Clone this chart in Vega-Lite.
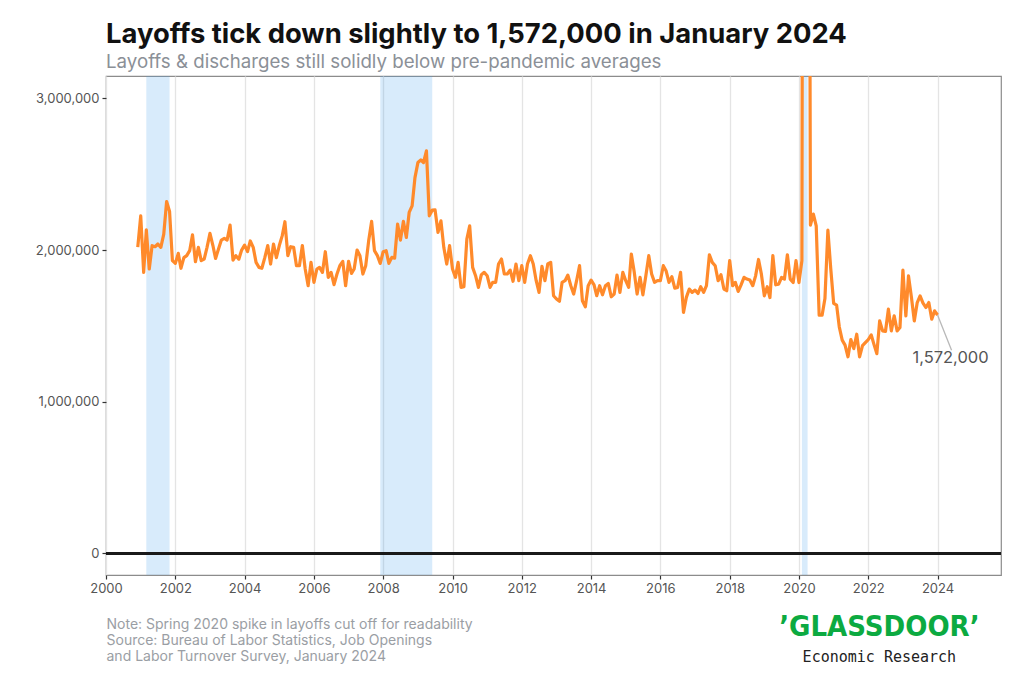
{
  "$schema": "https://vega.github.io/schema/vega-lite/v6.json",
  "autosize": {"type": "none"},
  "padding": {"left": 106, "top": 76, "right": 23, "bottom": 108},
  "width": 895,
  "height": 499,
  "background": "white",
  "config": {
    "font": "Inter",
    "view": {"stroke": "#8c8c8c", "strokeWidth": 1.2}
  },
  "title": {
    "text": "Layoffs tick down slightly to 1,572,000 in January 2024",
    "subtitle": "Layoffs & discharges still solidly below pre-pandemic averages",
    "anchor": "start",
    "frame": "group",
    "font": "Inter",
    "fontSize": 27.4,
    "fontWeight": 700,
    "color": "#111111",
    "subtitleFont": "Inter",
    "subtitleFontSize": 18.7,
    "subtitleColor": "#8b9097",
    "subtitlePadding": 5,
    "offset": 4
  },
  "data": {
    "format": {"parse": {"date": "date:'%Y-%m'"}},
    "values": [
      {"date":"2000-12","value":2020000},
      {"date":"2001-01","value":2226000},{"date":"2001-02","value":1853000},{"date":"2001-03","value":2134000},{"date":"2001-04","value":1875000},{"date":"2001-05","value":2029000},{"date":"2001-06","value":2022000},{"date":"2001-07","value":2040000},{"date":"2001-08","value":2018000},{"date":"2001-09","value":2105000},{"date":"2001-10","value":2320000},{"date":"2001-11","value":2255000},{"date":"2001-12","value":1930000},
      {"date":"2002-01","value":1912000},{"date":"2002-02","value":1978000},{"date":"2002-03","value":1880000},{"date":"2002-04","value":1950000},{"date":"2002-05","value":1963000},{"date":"2002-06","value":1996000},{"date":"2002-07","value":2100000},{"date":"2002-08","value":1923000},{"date":"2002-09","value":2018000},{"date":"2002-10","value":1930000},{"date":"2002-11","value":1940000},{"date":"2002-12","value":2018000},
      {"date":"2003-01","value":2110000},{"date":"2003-02","value":2030000},{"date":"2003-03","value":1945000},{"date":"2003-04","value":2007000},{"date":"2003-05","value":2066000},{"date":"2003-06","value":2077000},{"date":"2003-07","value":2066000},{"date":"2003-08","value":2165000},{"date":"2003-09","value":1934000},{"date":"2003-10","value":1963000},{"date":"2003-11","value":1940000},{"date":"2003-12","value":2000000},
      {"date":"2004-01","value":2033000},{"date":"2004-02","value":1990000},{"date":"2004-03","value":2060000},{"date":"2004-04","value":2018000},{"date":"2004-05","value":1919000},{"date":"2004-06","value":1886000},{"date":"2004-07","value":1880000},{"date":"2004-08","value":1950000},{"date":"2004-09","value":2030000},{"date":"2004-10","value":1908000},{"date":"2004-11","value":2040000},{"date":"2004-12","value":1950000},
      {"date":"2005-01","value":2030000},{"date":"2005-02","value":2095000},{"date":"2005-03","value":2187000},{"date":"2005-04","value":1963000},{"date":"2005-05","value":2022000},{"date":"2005-06","value":2018000},{"date":"2005-07","value":1897000},{"date":"2005-08","value":1897000},{"date":"2005-09","value":2030000},{"date":"2005-10","value":1875000},{"date":"2005-11","value":1765000},{"date":"2005-12","value":1919000},
      {"date":"2006-01","value":1787000},{"date":"2006-02","value":1875000},{"date":"2006-03","value":1886000},{"date":"2006-04","value":1853000},{"date":"2006-05","value":1989000},{"date":"2006-06","value":1820000},{"date":"2006-07","value":1853000},{"date":"2006-08","value":1772000},{"date":"2006-09","value":1842000},{"date":"2006-10","value":1897000},{"date":"2006-11","value":1925000},{"date":"2006-12","value":1765000},
      {"date":"2007-01","value":1925000},{"date":"2007-02","value":1846000},{"date":"2007-03","value":1875000},{"date":"2007-04","value":2000000},{"date":"2007-05","value":1963000},{"date":"2007-06","value":1842000},{"date":"2007-07","value":1897000},{"date":"2007-08","value":2061000},{"date":"2007-09","value":2189000},{"date":"2007-10","value":1996000},{"date":"2007-11","value":1963000},{"date":"2007-12","value":1912000},
      {"date":"2008-01","value":1989000},{"date":"2008-02","value":1996000},{"date":"2008-03","value":1912000},{"date":"2008-04","value":1952000},{"date":"2008-05","value":1947000},{"date":"2008-06","value":2171000},{"date":"2008-07","value":2066000},{"date":"2008-08","value":2189000},{"date":"2008-09","value":2083000},{"date":"2008-10","value":2248000},{"date":"2008-11","value":2292000},{"date":"2008-12","value":2478000},
      {"date":"2009-01","value":2577000},{"date":"2009-02","value":2594000},{"date":"2009-03","value":2577000},{"date":"2009-04","value":2654000},{"date":"2009-05","value":2226000},{"date":"2009-06","value":2263000},{"date":"2009-07","value":2265000},{"date":"2009-08","value":2116000},{"date":"2009-09","value":2193000},{"date":"2009-10","value":2018000},{"date":"2009-11","value":1908000},{"date":"2009-12","value":2029000},
      {"date":"2010-01","value":1875000},{"date":"2010-02","value":1820000},{"date":"2010-03","value":1919000},{"date":"2010-04","value":1754000},{"date":"2010-05","value":1759000},{"date":"2010-06","value":2072000},{"date":"2010-07","value":2160000},{"date":"2010-08","value":1886000},{"date":"2010-09","value":1831000},{"date":"2010-10","value":1754000},{"date":"2010-11","value":1838000},{"date":"2010-12","value":1853000},
      {"date":"2011-01","value":1831000},{"date":"2011-02","value":1754000},{"date":"2011-03","value":1787000},{"date":"2011-04","value":1787000},{"date":"2011-05","value":1908000},{"date":"2011-06","value":1941000},{"date":"2011-07","value":1842000},{"date":"2011-08","value":1842000},{"date":"2011-09","value":1868000},{"date":"2011-10","value":1794000},{"date":"2011-11","value":1908000},{"date":"2011-12","value":1798000},
      {"date":"2012-01","value":1897000},{"date":"2012-02","value":1787000},{"date":"2012-03","value":1908000},{"date":"2012-04","value":1963000},{"date":"2012-05","value":1908000},{"date":"2012-06","value":1798000},{"date":"2012-07","value":1721000},{"date":"2012-08","value":1893000},{"date":"2012-09","value":1798000},{"date":"2012-10","value":1908000},{"date":"2012-11","value":1919000},{"date":"2012-12","value":1699000},
      {"date":"2013-01","value":1677000},{"date":"2013-02","value":1662000},{"date":"2013-03","value":1787000},{"date":"2013-04","value":1798000},{"date":"2013-05","value":1835000},{"date":"2013-06","value":1765000},{"date":"2013-07","value":1710000},{"date":"2013-08","value":1798000},{"date":"2013-09","value":1897000},{"date":"2013-10","value":1666000},{"date":"2013-11","value":1626000},{"date":"2013-12","value":1765000},
      {"date":"2014-01","value":1802000},{"date":"2014-02","value":1771000},{"date":"2014-03","value":1699000},{"date":"2014-04","value":1765000},{"date":"2014-05","value":1705000},{"date":"2014-06","value":1765000},{"date":"2014-07","value":1780000},{"date":"2014-08","value":1692000},{"date":"2014-09","value":1710000},{"date":"2014-10","value":1835000},{"date":"2014-11","value":1721000},{"date":"2014-12","value":1853000},
      {"date":"2015-01","value":1798000},{"date":"2015-02","value":1754000},{"date":"2015-03","value":1974000},{"date":"2015-04","value":1853000},{"date":"2015-05","value":1710000},{"date":"2015-06","value":1820000},{"date":"2015-07","value":1705000},{"date":"2015-08","value":1831000},{"date":"2015-09","value":1963000},{"date":"2015-10","value":1842000},{"date":"2015-11","value":1787000},{"date":"2015-12","value":1798000},
      {"date":"2016-01","value":1798000},{"date":"2016-02","value":1897000},{"date":"2016-03","value":1864000},{"date":"2016-04","value":1787000},{"date":"2016-05","value":1824000},{"date":"2016-06","value":1749000},{"date":"2016-07","value":1754000},{"date":"2016-08","value":1853000},{"date":"2016-09","value":1589000},{"date":"2016-10","value":1688000},{"date":"2016-11","value":1743000},{"date":"2016-12","value":1721000},
      {"date":"2017-01","value":1736000},{"date":"2017-02","value":1714000},{"date":"2017-03","value":1758000},{"date":"2017-04","value":1721000},{"date":"2017-05","value":1765000},{"date":"2017-06","value":1969000},{"date":"2017-07","value":1919000},{"date":"2017-08","value":1897000},{"date":"2017-09","value":1798000},{"date":"2017-10","value":1837000},{"date":"2017-11","value":1743000},{"date":"2017-12","value":1732000},
      {"date":"2018-01","value":1930000},{"date":"2018-02","value":1765000},{"date":"2018-03","value":1787000},{"date":"2018-04","value":1727000},{"date":"2018-05","value":1771000},{"date":"2018-06","value":1820000},{"date":"2018-07","value":1809000},{"date":"2018-08","value":1802000},{"date":"2018-09","value":1765000},{"date":"2018-10","value":1830000},{"date":"2018-11","value":1938000},{"date":"2018-12","value":1841000},
      {"date":"2019-01","value":1698000},{"date":"2019-02","value":1758000},{"date":"2019-03","value":1687000},{"date":"2019-04","value":1963000},{"date":"2019-05","value":1771000},{"date":"2019-06","value":1775000},{"date":"2019-07","value":1819000},{"date":"2019-08","value":1808000},{"date":"2019-09","value":1969000},{"date":"2019-10","value":1808000},{"date":"2019-11","value":1786000},{"date":"2019-12","value":1930000},
      {"date":"2020-01","value":1786000},{"date":"2020-02","value":1930000},{"date":"2020-03","value":13000000},{"date":"2020-04","value":9400000},{"date":"2020-05","value":2165000},{"date":"2020-06","value":2237000},{"date":"2020-07","value":2160000},{"date":"2020-08","value":1570000},{"date":"2020-09","value":1570000},{"date":"2020-10","value":1680000},{"date":"2020-11","value":2131000},{"date":"2020-12","value":1880000},
      {"date":"2021-01","value":1648000},{"date":"2021-02","value":1637000},{"date":"2021-03","value":1494000},{"date":"2021-04","value":1406000},{"date":"2021-05","value":1373000},{"date":"2021-06","value":1296000},{"date":"2021-07","value":1410000},{"date":"2021-08","value":1350000},{"date":"2021-09","value":1445000},{"date":"2021-10","value":1296000},{"date":"2021-11","value":1370000},{"date":"2021-12","value":1390000},
      {"date":"2022-01","value":1410000},{"date":"2022-02","value":1441000},{"date":"2022-03","value":1380000},{"date":"2022-04","value":1317000},{"date":"2022-05","value":1533000},{"date":"2022-06","value":1467000},{"date":"2022-07","value":1463000},{"date":"2022-08","value":1610000},{"date":"2022-09","value":1467000},{"date":"2022-10","value":1566000},{"date":"2022-11","value":1467000},{"date":"2022-12","value":1489000},
      {"date":"2023-01","value":1868000},{"date":"2023-02","value":1566000},{"date":"2023-03","value":1830000},{"date":"2023-04","value":1687000},{"date":"2023-05","value":1533000},{"date":"2023-06","value":1654000},{"date":"2023-07","value":1698000},{"date":"2023-08","value":1650000},{"date":"2023-09","value":1621000},{"date":"2023-10","value":1654000},{"date":"2023-11","value":1544000},{"date":"2023-12","value":1599000},
      {"date":"2024-01","value":1572000}
    ]
  },
  "layer": [
    {
      "data": {
        "format": {"parse": {"start": "date:'%Y-%m'", "end": "date:'%Y-%m'"}},
        "values": [
          {"start": "2001-03", "end": "2001-11"},
          {"start": "2007-12", "end": "2009-06"},
          {"start": "2020-02", "end": "2020-04"}
        ]
      },
      "mark": {"type": "rect", "color": "#3d9be9", "opacity": 0.2},
      "encoding": {
        "x": {"field": "start", "type": "temporal"},
        "x2": {"field": "end"}
      }
    },
    {
      "mark": {"type": "rule", "color": "#1a1a1a", "strokeWidth": 2},
      "encoding": {"y": {"datum": 0, "type": "quantitative"}}
    },
    {
      "mark": {"type": "line", "color": "#ff8a2b", "strokeWidth": 3.2, "clip": true, "strokeJoin": "round"},
      "encoding": {
        "x": {
          "field": "date",
          "type": "temporal",
          "scale": {"domain": [{"year": 2000, "month": 1, "date": 1}, {"year": 2025, "month": 10, "date": 31}]},
          "axis": {
            "values": [
              {"year": 2000, "month": 1, "date": 1},{"year": 2001, "month": 1, "date": 1},{"year": 2002, "month": 1, "date": 1},{"year": 2003, "month": 1, "date": 1},{"year": 2004, "month": 1, "date": 1},{"year": 2005, "month": 1, "date": 1},{"year": 2006, "month": 1, "date": 1},{"year": 2007, "month": 1, "date": 1},{"year": 2008, "month": 1, "date": 1},{"year": 2009, "month": 1, "date": 1},{"year": 2010, "month": 1, "date": 1},{"year": 2011, "month": 1, "date": 1},{"year": 2012, "month": 1, "date": 1},{"year": 2013, "month": 1, "date": 1},{"year": 2014, "month": 1, "date": 1},{"year": 2015, "month": 1, "date": 1},{"year": 2016, "month": 1, "date": 1},{"year": 2017, "month": 1, "date": 1},{"year": 2018, "month": 1, "date": 1},{"year": 2019, "month": 1, "date": 1},{"year": 2020, "month": 1, "date": 1},{"year": 2021, "month": 1, "date": 1},{"year": 2022, "month": 1, "date": 1},{"year": 2023, "month": 1, "date": 1},{"year": 2024, "month": 1, "date": 1},{"year": 2025, "month": 1, "date": 1}
            ],
            "labelExpr": "year(datum.value) % 2 === 0 ? timeFormat(datum.value, '%Y') : ''",
            "labelOverlap": false,
            "labelFlush": false,
            "labelFont": "Inter",
            "labelFontSize": 13,
            "labelColor": "#555555",
            "labelPadding": 3,
            "domain": false,
            "tickColor": "#333333",
            "tickSize": 4,
            "tickWidth": 1.2,
            "tickOpacity": {"condition": {"test": "year(datum.value) % 2 === 0", "value": 1}, "value": 0},
            "gridColor": {"condition": {"test": "year(datum.value) % 2 === 0", "value": "#e4e4e4"}, "value": "#eeeeee"},
            "gridWidth": 1.3,
            "title": ["Note: Spring 2020 spike in layoffs cut off for readability", "Source: Bureau of Labor Statistics, Job Openings", "and Labor Turnover Survey, January 2024"],
            "titleFont": "Inter",
            "titleAnchor": "start",
            "titleAlign": "left",
            "titleFontWeight": "normal",
            "titleFontSize": 14,
            "titleColor": "#9a9ea4",
            "titleLineHeight": 16,
            "titlePadding": 22
          }
        },
        "y": {
          "field": "value",
          "type": "quantitative",
          "scale": {"domain": [-143000, 3148000], "nice": false, "zero": false},
          "axis": {
            "values": [0, 500000, 1000000, 1500000, 2000000, 2500000, 3000000],
            "labelExpr": "datum.value % 1000000 === 0 ? format(datum.value, ',') : ''",
            "labelFont": "Inter",
            "labelFontSize": 13,
            "labelColor": "#555555",
            "labelPadding": 3,
            "domain": false,
            "tickColor": "#333333",
            "tickSize": 4,
            "tickWidth": 1.2,
            "tickOpacity": {"condition": {"test": "datum.value % 1000000 === 0", "value": 1}, "value": 0},
            "gridColor": {"condition": {"test": "datum.value % 1000000 === 0", "value": "#e4e4e4"}, "value": "#eeeeee"},
            "gridWidth": 1.3,
            "title": null
          }
        }
      }
    },
    {
      "transform": [{"filter": "year(datum.date) === 2024"}],
      "mark": {"type": "rule", "color": "#b8b8b8", "strokeWidth": 1.3},
      "encoding": {
        "x": {"field": "date", "type": "temporal"},
        "y": {"field": "value", "type": "quantitative"},
        "x2": {"datum": {"year": 2024, "month": 5, "date": 28}},
        "y2": {"datum": 1340000}
      }
    },
    {
      "transform": [{"filter": "year(datum.date) === 2024"}],
      "mark": {"type": "text", "font": "Inter", "fontSize": 16.5, "color": "#555555", "align": "center", "baseline": "middle", "dx": 13, "dy": 43},
      "encoding": {
        "x": {"field": "date", "type": "temporal"},
        "y": {"field": "value", "type": "quantitative"},
        "text": {"field": "value", "type": "quantitative", "format": ","}
      }
    },
    {
      "data": {"values": [{}]},
      "mark": {"type": "text", "text": "’GLASSDOOR’", "font": "Liberation Sans Narrow, DejaVu Sans Condensed, sans-serif", "fontWeight": "bold", "fontSize": 29, "color": "#0caa41", "align": "center", "baseline": "middle"},
      "encoding": {
        "x": {"datum": {"year": 2022, "month": 4, "date": 28}, "type": "temporal"},
        "y": {"datum": -486000, "type": "quantitative"}
      }
    },
    {
      "data": {"values": [{}]},
      "mark": {"type": "text", "text": "Economic Research", "font": "DejaVu Sans Mono, Liberation Mono, monospace", "fontSize": 15, "color": "#222222", "align": "center", "baseline": "middle"},
      "encoding": {
        "x": {"datum": {"year": 2022, "month": 4, "date": 28}, "type": "temporal"},
        "y": {"datum": -683000, "type": "quantitative"}
      }
    }
  ]
}
